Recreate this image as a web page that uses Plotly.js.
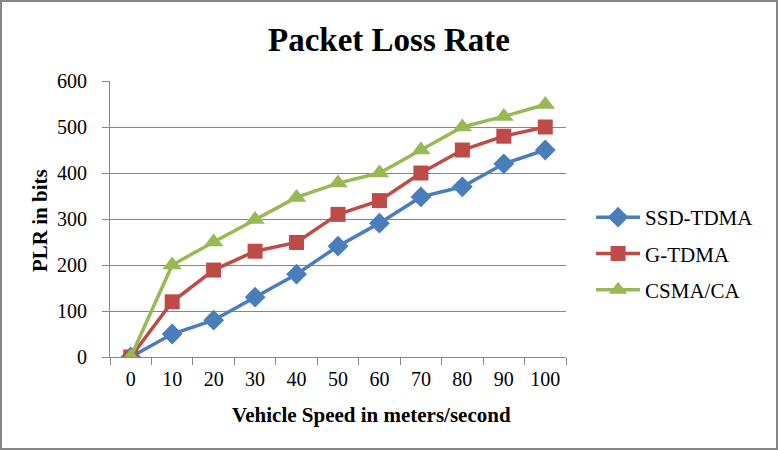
<!DOCTYPE html>
<html><head><meta charset="utf-8">
<script src="https://cdn.plot.ly/plotly-3.0.1.min.js"></script>
<style>
html,body{margin:0;padding:0;background:#fff;}
#wrap{width:778px;height:450px;box-sizing:border-box;border:2px solid #868686;}
#chart{width:774px;height:446px;}
</style></head>
<body><div id="wrap"><div id="chart"></div></div>
<script>
const speeds = ["0","10","20","30","40","50","60","70","80","90","100"];
const ssdTdma = [0, 50, 80, 130, 180, 241, 291, 348, 370, 420, 450];
const gTdma   = [0, 120, 189, 230, 249, 310, 340, 400, 450, 480, 500];
const csmaCa  = [0, 200, 250, 299, 347, 378, 400, 450, 500, 523, 549];
const yTicks = [0,100,200,300,400,500,600];

const serif = "Liberation Serif";
function tr(name, y, color, symbol, size){
  return {x: speeds, y: y, name: name, type:'scatter', mode:'lines+markers',
    legendgroup: name,
    line:{color:color, width:3.5},
    marker:{color:color, symbol:symbol, size:size}};
}
const data = [
  tr('SSD-TDMA', ssdTdma, '#4A7EBB', 'diamond', 16),
  tr('G-TDMA', gTdma, '#BE4B48', 'square', 15),
  tr('CSMA/CA', csmaCa, '#98B954', 'triangle-up', 17)
];
const layout = {
  width:774, height:446,
  margin:{l:108, r:210, t:79, b:91},
  paper_bgcolor:'#fff', plot_bgcolor:'#fff',
  font:{family:serif, size:20, color:'#000'},
  title:{text:'<b>Packet Loss Rate</b>', font:{family:serif, size:33, color:'#000'},
    x:0.5, xref:'container', y:0.915, yref:'container', yanchor:'middle'},
  xaxis:{type:'category', categoryorder:'array', categoryarray:speeds,
    range:[-0.5,10.5], showgrid:false, showline:true, linecolor:'#868686', linewidth:1,
    ticks:'outside', tickson:'boundaries', ticklen:7, tickcolor:'#868686', ticklabelstandoff:4,
    tickfont:{family:serif, size:20, color:'#000'},
    zeroline:false},
  yaxis:{range:[0,600], tickvals:yTicks, showgrid:true, gridcolor:'#868686', gridwidth:1,
    showline:true, linecolor:'#868686', linewidth:1, ticks:'outside', ticklen:7, tickcolor:'#868686',
    ticklabelstandoff:11,
    tickfont:{family:serif, size:20, color:'#000'},
    zeroline:false},
  annotations:[
    {text:'<b>Vehicle Speed in meters/second</b>', xref:'paper', yref:'paper',
     x:(369-108)/456, y:-(413-355)/276, xanchor:'center', yanchor:'middle', showarrow:false,
     font:{family:serif, size:21, color:'#000'}},
    {text:'<b>PLR in bits</b>', xref:'paper', yref:'paper', textangle:-90,
     x:-(108-38)/456, y:(355-219)/276, xanchor:'center', yanchor:'middle', showarrow:false,
     font:{family:serif, size:21, color:'#000'}}
  ],
  legend:{x:1.055, xanchor:'left', y:0.375, yanchor:'middle', traceorder:'grouped', tracegroupgap:6,
    itemwidth:44,
    font:{family:serif, size:21, color:'#000'}, bgcolor:'rgba(0,0,0,0)'},
  showlegend:true
};
Plotly.newPlot('chart', data, layout, {displayModeBar:false});
</script></body></html>
